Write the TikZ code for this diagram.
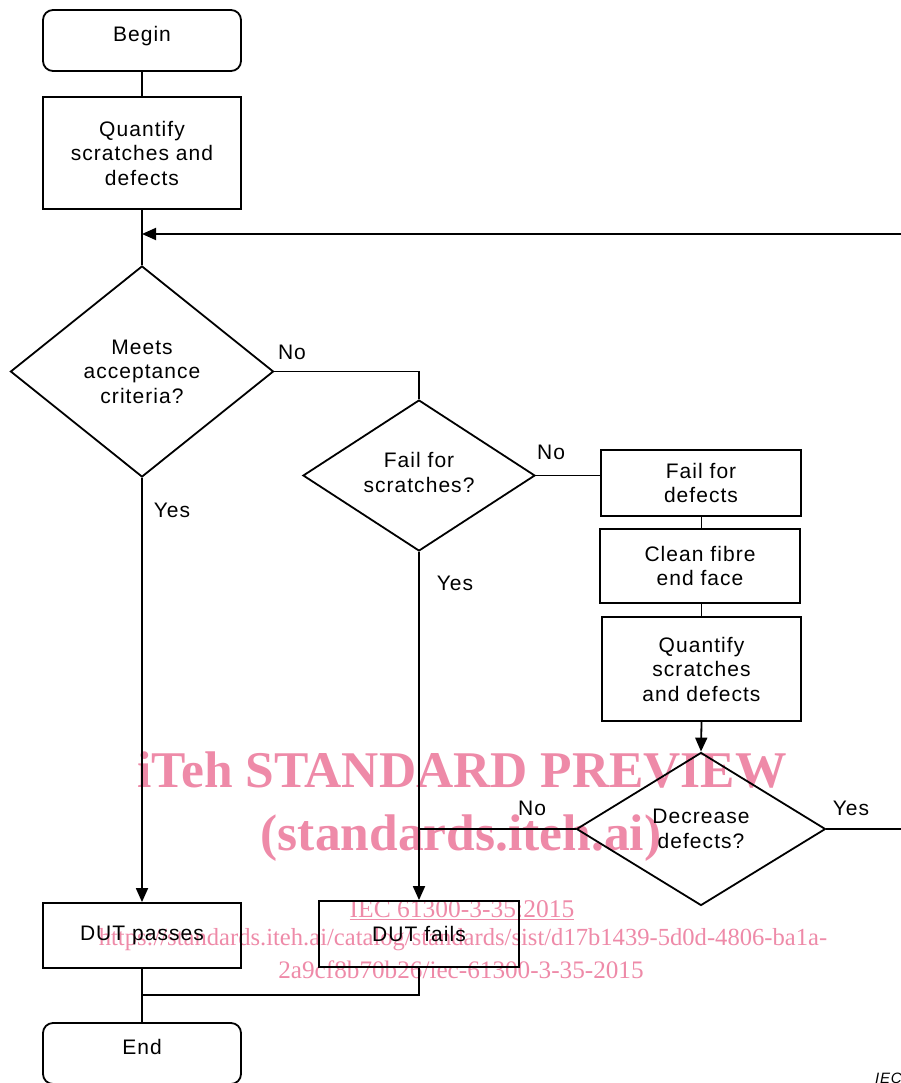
\documentclass[tikz,border=0pt]{standalone}
\usepackage{fontspec}
\setmainfont{Liberation Sans}[LetterSpace=5]
\newfontfamily\wmfont{Liberation Serif}
\usetikzlibrary{shapes.geometric,arrows.meta}
\definecolor{wmpink}{RGB}{238,138,168}
\begin{document}
\begin{tikzpicture}[x=1pt,y=-1pt,
  every node/.style={font=\fontsize{21}{24.5}\selectfont, align=center, inner sep=0pt},
  conn/.style={line width=1.8pt},
  arr/.style={line width=1.8pt, -{Triangle[length=14pt,width=12pt]}},
  boxnode/.style={draw, line width=1.8pt, rectangle},
  termnode/.style={draw, line width=1.8pt, rectangle, rounded corners=10pt, minimum width=198pt, minimum height=61pt},
  decnode/.style={draw, line width=1.8pt, diamond},
  lbl/.style={font=\fontsize{21}{24.5}\selectfont, align=center},
  wm/.style={text=wmpink, font=\wmfont}
]
\useasboundingbox (0,0) rectangle (901,1083);
\clip (0,0) rectangle (901,1083);

% watermark
\node[wm, font=\wmfont\bfseries\fontsize{51.5}{51.5}\selectfont, anchor=base] (wm1) at (462,787) {iTeh STANDARD PREVIEW};
\node[wm, font=\wmfont\bfseries\fontsize{51.5}{51.5}\selectfont, anchor=base] (wm2) at (461,850) {(standards.iteh.ai)};
\node[wm, font=\wmfont\fontsize{25.5}{25.5}\selectfont, anchor=base] (wm3) at (462,917) {\underline{IEC 61300-3-35:2015}};
\node[wm, font=\wmfont\fontsize{24.6}{24.6}\selectfont, anchor=base] (wm4) at (463,945) {https://standards.iteh.ai/catalog/standards/sist/d17b1439-5d0d-4806-ba1a-};
\node[wm, font=\wmfont\fontsize{25.2}{25.2}\selectfont, anchor=base] (wm5) at (461,978) {2a9cf8b70b26/iec-61300-3-35-2015};

% nodes
\node[termnode, label={[lbl, yshift=4.5pt]center:Begin}] (begin) at (142,40.5) {};
\node[boxnode, minimum width=198pt, minimum height=112pt] (q1) at (142,153) {Quantify\\scratches and\\defects};
\node[decnode, minimum width=263pt, minimum height=211pt, shape aspect=1.25] (d1) at (142,371.5) {Meets\\acceptance\\criteria?};
\node[decnode, minimum width=232pt, minimum height=151pt, shape aspect=1.54, label={[lbl, yshift=3pt]center:Fail for\\scratches?}] (d2) at (419,475.5) {};
\node[boxnode, minimum width=200pt, minimum height=66pt] (fd) at (701,483) {Fail for\\defects};
\node[boxnode, minimum width=200pt, minimum height=74pt] (clean) at (700,566) {Clean fibre\\end face};
\node[boxnode, minimum width=199pt, minimum height=104pt] (q2) at (701.5,669) {Quantify\\scratches\\and defects};
\node[decnode, minimum width=249pt, minimum height=153pt, shape aspect=1.63] (d3) at (701,829) {Decrease\\defects?};
\node[boxnode, minimum width=198pt, minimum height=65pt] (pass) at (142,935.5) {DUT passes};
\node[boxnode, minimum width=200pt, minimum height=66pt] (fail) at (419,934) {DUT fails};
\node[termnode, label={[lbl, yshift=6.5pt]center:End}] (end) at (142,1053.5) {};

% coordinates
\coordinate (loopin) at (901,234);
\coordinate (jin) at (142,234);
\coordinate (loopout) at (901,829);
\coordinate (jout) at (142,995);

% connectors
\draw[conn] (begin.south) -- (q1.north);
\draw[conn] (q1.south) -- (d1.north);
\draw[arr] (loopin) -- (jin);
\draw[conn] (d1.east) -| (d2.north);
\draw[arr] (d1.south) -- (pass.north);
\draw[conn] (d2.east) -- (d2.east -| fd.west);
\draw[conn] (fd.south -| q2.north) -- (clean.north -| q2.north);
\draw[conn] (clean.south -| q2.north) -- (q2.north);
\draw[arr] (q2.south) -- (d3.north);
\draw[conn] (d3.east) -- (loopout);
\draw[conn] (d3.west) -- (d3.west -| d2.south);
\draw[arr] (d2.south) -- (fail.north);
\draw[conn] (pass.south) -- (end.north);
\draw[conn] (fail.south) |- (jout);

% labels
\node[lbl] (l1) at (292,352) {No};
\node[lbl] (l2) at (172,510) {Yes};
\node[lbl] (l3) at (551,452) {No};
\node[lbl] (l4) at (455,583) {Yes};
\node[lbl] (l5) at (851,808) {Yes};
\node[lbl] (l6) at (532,808) {No};

\node[font=\itshape\fontsize{15}{15}\selectfont, anchor=base west] (iec) at (875,1083.5) {IEC};
\end{tikzpicture}
\end{document}
